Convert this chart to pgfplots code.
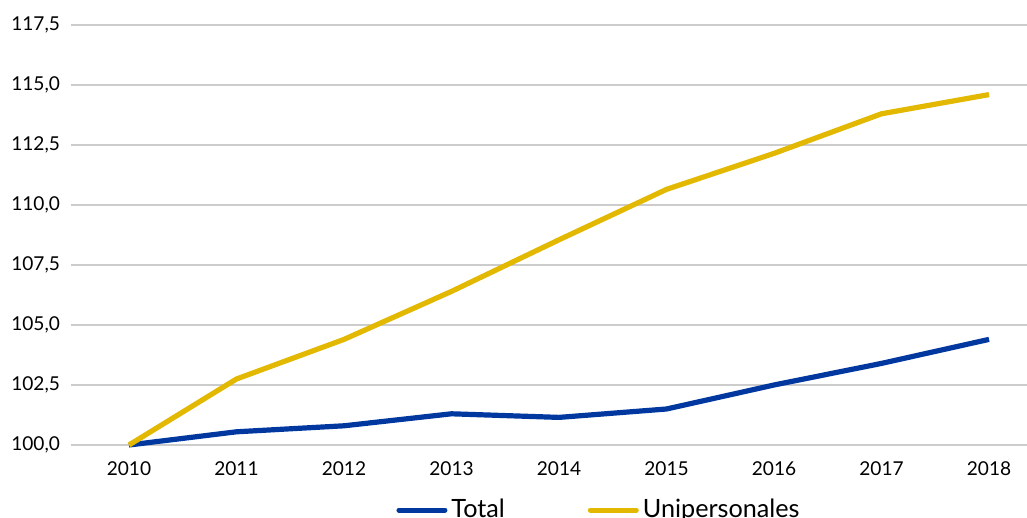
\documentclass[border=0pt]{standalone}
\usepackage{fontspec}
\setmainfont{Lato}
\usepackage{pgfplots}
\pgfplotsset{compat=1.18}
\definecolor{cblue}{RGB}{0,56,160}
\definecolor{cyellow}{RGB}{226,184,0}
\definecolor{cgrid}{RGB}{204,204,204}
\begin{document}
\begin{tikzpicture}
\begin{axis}[
  scale only axis, width=478pt, height=210pt,
  xmin=2009.4605, xmax=2018.3535, ymin=100, ymax=117.5,
  xtick={2010,2011,2012,2013,2014,2015,2016,2017,2018},
  ytick={100,102.5,105,107.5,110,112.5,115,117.5},
  x tick label style={/pgf/number format/set thousands separator={}, /pgf/number format/assume math mode=true, yshift=-4.6pt},
  y tick label style={/pgf/number format/fixed, /pgf/number format/fixed zerofill, /pgf/number format/precision=1, /pgf/number format/use comma, /pgf/number format/assume math mode=true, xshift=-2pt},
  tick label style={font=\fontsize{9.55}{11}\selectfont},
  ymajorgrids, grid style={cgrid, line width=0.9pt},
  axis line style={draw=none}, major tick length=0pt,
  clip=false,
  legend columns=2,
  legend style={draw=none, fill=none, at={(0.34,-0.1548)}, anchor=west,
    font=\fontsize{12.6}{14}\selectfont, inner sep=0pt,
    /tikz/every even column/.append style={column sep=39.5pt}},
  legend image code/.code={\draw[#1, line width=2.5pt, line cap=round] (0pt,0pt) -- (23pt,0pt);},
]
\addplot[cblue, line width=2.6pt, line join=round] coordinates {
(2010,100) (2011,100.55) (2012,100.8) (2013,101.3) (2014,101.15) (2015,101.5) (2016,102.5) (2017,103.4) (2018,104.4)};
\addlegendentry{Total}
\addplot[cyellow, line width=2.6pt, line join=round] coordinates {
(2010,100) (2011,102.75) (2012,104.4) (2013,106.4) (2014,108.55) (2015,110.65) (2016,112.15) (2017,113.8) (2018,114.6)};
\addlegendentry{Unipersonales}
\end{axis}
\pgfresetboundingbox
\path ([xshift=-35.5pt,yshift=-36.5pt]current axis.south west) rectangle ([yshift=12.5pt]current axis.north east);
\end{tikzpicture}
\end{document}
